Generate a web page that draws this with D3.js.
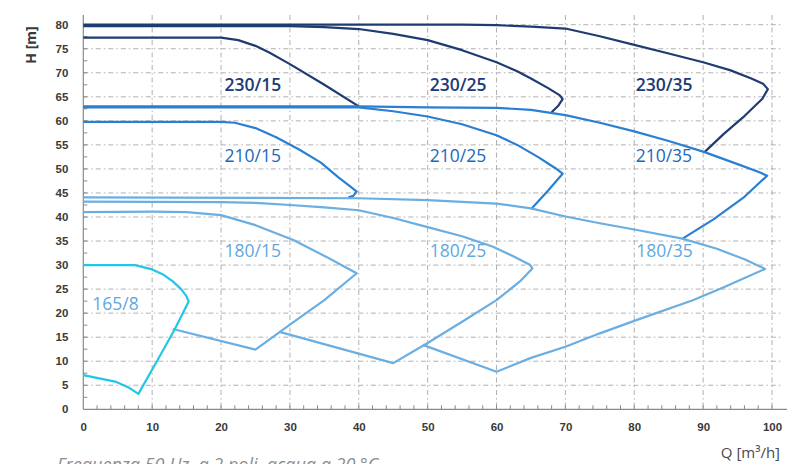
<!DOCTYPE html>
<html>
<head>
<meta charset="utf-8">
<script src="https://cdn.jsdelivr.net/npm/d3@7"></script>
<style>
  body { margin: 0; background: #fff; }
  svg { display: block; font-family: "Open Sans", "Noto Sans", sans-serif; }
</style>
</head>
<body>
<script>
// pump curves, each point is [Q m3/h, H m]
var curve230_35 = [[0,80],[55,80],[60,79.9],[65,79.6],[70,79.2],[75,77.6],[80,75.8],[85,74],[90,72.2],[94,70.5],[97,68.8],[98.7,67.7],[99.4,66.6],[98.6,64.6],[96,61],[93,57.3],[90.2,53.5]];
var curve230_25 = [[0,79.7],[30,79.7],[35,79.5],[40,79.1],[45,78.1],[50,76.8],[55,74.7],[60,72.2],[63,70.3],[65,68.8],[67.5,66.8],[69.2,65.3],[69.6,64.5],[69,63.2],[68,61.8]];
var curve230_15 = [[0,77.3],[20,77.3],[22.5,76.8],[25,75.6],[27,74.2],[30,71.8],[35,67.5],[40,63]];
var curve210_35 = [[0,63],[40,63],[50,62.8],[60,62.7],[65,62.3],[70,61.2],[75,59.6],[80,57.8],[85,55.8],[90,53.6],[95,51],[98,49.4],[99.3,48.6],[96,44.2],[91.5,39.5],[86.9,35.4]];
var curve210_25 = [[0,62.8],[40,62.8],[45,62],[50,60.9],[55,59.3],[60,57],[63,55],[66,52.5],[68.5,50.2],[69.6,49],[67.5,45.5],[65,41.6]];
var curve210_15 = [[0,59.8],[20,59.8],[22,59.6],[25,58.5],[28,56.6],[31.4,54],[34.5,51.3],[37,48.3],[38.8,46.3],[39.7,45.3],[39.2,44.4],[38.5,44.1]];
var curve180_35 = [[0,44.1],[40,43.9],[50,43.5],[60,42.8],[65,41.8],[70,40.1],[75,38.7],[80,37.4],[87,35.5],[92,33.4],[96,31.2],[99,29.2],[93,25.4],[88.5,22.7],[80.4,18.6],[75,15.8],[70,13],[65,10.7],[60,7.8],[49.3,13.4]];
var curve180_25 = [[0,43.2],[20,43.1],[25.6,42.9],[30,42.5],[35,42],[40,41.4],[45,39.8],[50,37.9],[55,36],[59.5,33.8],[62.5,31.8],[64.9,30],[65.2,29.3],[63.4,26.6],[60,22.7],[55,18.2],[50,13.8],[45,9.6],[28.5,16.1]];
var curve180_15 = [[0,41],[10,41.1],[15,41],[20,40.4],[25,38.3],[30.5,35.2],[35.3,31.7],[38,29.6],[39.7,28.3],[35,22.7],[30,17.6],[25,12.4],[13,16.7]];
var curve165_8 = [[0,30],[7.5,30],[10,29.1],[11.5,28.1],[13,26.6],[14.2,25],[15,23.5],[15.3,22.4],[13.3,16.7],[10.65,9.9],[8,3.2],[6.5,4.6],[4.8,5.7],[0,7.1]];

var curveNames = ["230/35", "230/25", "230/15", "210/35", "210/25", "210/15", "180/35", "180/25", "180/15", "165/8"];
var curvePoints = [curve230_35, curve230_25, curve230_15, curve210_35, curve210_25, curve210_15, curve180_35, curve180_25, curve180_15, curve165_8];
// label anchor for each curve (data coords)
var labelQ = [80.2, 50.3, 20.5, 80.2, 50.3, 20.5, 80.3, 50.3, 20.5, 1.3];
var labelH = [66.3, 66.3, 66.3, 51.5, 51.5, 51.5, 31.7, 31.7, 31.7, 20.7];

var xTicks = [0, 10, 20, 30, 40, 50, 60, 70, 80, 90, 100];
var yTicks = [0, 5, 10, 15, 20, 25, 30, 35, 40, 45, 50, 55, 60, 65, 70, 75, 80];

var svgWidth = 792;
var svgHeight = 464;

var svg = d3.select("body")
    .append("svg")
    .attr("width", svgWidth)
    .attr("height", svgHeight);

var x = d3.scaleLinear().domain([0, 100]).range([83.3, 772]);
var y = d3.scaleLinear().domain([0, 80]).range([409.3, 24.7]);

function family(name) {
    return name.split("/")[0];
}
var lineColor = { "230": "#1f3c72", "210": "#2a7fd2", "180": "#6aaee2", "165": "#22c6e6" };
var textColor = { "230": "#1d3a78", "210": "#1a69bc", "180": "#5ea8e2", "165": "#5ea8e2" };

// grid
var grid = svg.append("g").attr("class", "grid");
grid.selectAll(".vgrid")
    .data(xTicks.slice(1))
    .enter()
    .append("line")
    .attr("x1", d => x(d))
    .attr("x2", d => x(d))
    .attr("y1", 15)
    .attr("y2", y(0))
    .attr("stroke", "#a8a8a8")
    .attr("stroke-width", 0.9)
    .attr("stroke-dasharray", "5,3,1.5,3");
grid.selectAll(".hgrid")
    .data(yTicks.slice(1))
    .enter()
    .append("line")
    .attr("x1", x(0))
    .attr("x2", 781)
    .attr("y1", d => y(d))
    .attr("y2", d => y(d))
    .attr("stroke", "#a8a8a8")
    .attr("stroke-width", 0.9)
    .attr("stroke-dasharray", "5,3,1.5,3");

// axes
var bottomAxis = d3.axisBottom(x).tickValues(xTicks).tickSize(0).tickPadding(14);
var xAxisGroup = svg.append("g")
    .attr("transform", `translate(0, ${y(0)})`)
    .call(bottomAxis);
var leftAxis = d3.axisLeft(y).tickValues(yTicks).tickSize(0).tickPadding(15);
var yAxisGroup = svg.append("g")
    .attr("transform", `translate(${x(0)}, 0)`)
    .call(leftAxis);

[xAxisGroup, yAxisGroup].forEach(g => {
    g.select(".domain").remove();
    g.selectAll("text")
        .attr("fill", "#3a3a3a")
        .style("font-size", "11.5px")
        .style("font-weight", "600");
});

svg.append("line")
    .attr("x1", x(0)).attr("x2", 787)
    .attr("y1", y(0)).attr("y2", y(0))
    .attr("stroke", "#8a8a8a").attr("stroke-width", 1.2);
svg.append("line")
    .attr("x1", x(0)).attr("x2", x(0))
    .attr("y1", 15).attr("y2", y(0))
    .attr("stroke", "#8a8a8a").attr("stroke-width", 1.2);

// minor ticks
svg.selectAll(".xminor")
    .data(d3.range(2, 101, 2))
    .enter()
    .append("line")
    .attr("x1", d => x(d)).attr("x2", d => x(d))
    .attr("y1", y(0)).attr("y2", y(0) - 4)
    .attr("stroke", "#8a8a8a");
svg.selectAll(".yminor")
    .data(d3.range(2.5, 80.1, 2.5))
    .enter()
    .append("line")
    .attr("x1", x(0)).attr("x2", x(0) + 4)
    .attr("y1", d => y(d)).attr("y2", d => y(d))
    .attr("stroke", "#8a8a8a");

// curves
var line = d3.line()
    .x(d => x(d[0]))
    .y(d => y(d[1]));

svg.append("g")
    .selectAll("path")
    .data(curvePoints)
    .enter()
    .append("path")
    .attr("d", d => line(d))
    .attr("fill", "none")
    .attr("stroke", (d, i) => lineColor[family(curveNames[i])])
    .attr("stroke-width", 2.2)
    .attr("stroke-linejoin", "round");

// curve labels
svg.append("g")
    .selectAll("text")
    .data(curveNames)
    .enter()
    .append("text")
    .attr("x", (d, i) => x(labelQ[i]))
    .attr("y", (d, i) => y(labelH[i]))
    .attr("fill", d => textColor[family(d)])
    .style("font-size", "17.5px")
    .style("font-weight", d => family(d) == "230" ? "600" : "500")
    .text(d => d);

// axis titles
svg.append("text")
    .attr("transform", "translate(36, 45) rotate(-90)")
    .attr("text-anchor", "middle")
    .attr("fill", "#3a3a3a")
    .style("font-size", "14px")
    .style("font-weight", "700")
    .text("H [m]");

svg.append("text")
    .attr("x", 780)
    .attr("y", 458)
    .attr("text-anchor", "end")
    .attr("fill", "#4a4a4a")
    .style("font-size", "15px")
    .text("Q [m³/h]");

svg.append("text")
    .attr("x", 57)
    .attr("y", 471)
    .attr("fill", "#8c8c8c")
    .style("font-size", "18px")
    .style("font-style", "italic")
    .text("Frequenza 50 Hz, a 2 poli, acqua a 20 °C");
</script>
</body>
</html>
